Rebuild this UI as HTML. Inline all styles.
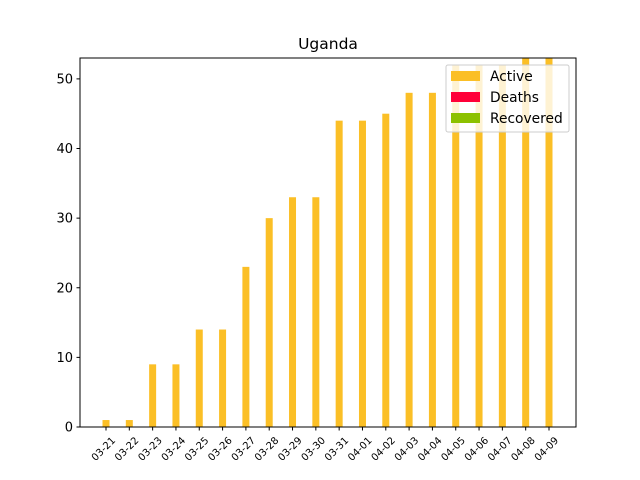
<!DOCTYPE html>
<html><head><meta charset="utf-8"><style>body{margin:0;background:#fff}svg{display:block;font-family:"DejaVu Sans","Liberation Sans",sans-serif}</style></head>
<body>
<svg id="chart" width="640" height="480" viewBox="0 0 640 480">
<rect width="640" height="480" fill="#fff"/>
<text x="328" y="49" text-anchor="middle" font-size="15.5">Uganda</text>
<g id="bars"></g>
<g id="yaxis"></g>
<g id="xaxis"></g>
<rect x="80" y="58" width="496" height="369" fill="none" stroke="#000" stroke-width="1"/>
<g>
<rect x="446" y="65" width="123" height="67" rx="2" fill="#fff" fill-opacity="0.8" stroke="#ccc"/>
<rect x="451" y="71" width="29" height="10" fill="#fbbf26"/>
<text x="490" y="81" font-size="13.8">Active</text>
<rect x="451" y="92" width="29" height="10" fill="#ff0038"/>
<text x="490" y="102" font-size="13.8">Deaths</text>
<rect x="451" y="113" width="29" height="10" fill="#8cc100"/>
<text x="490" y="123" font-size="13.8">Recovered</text>
</g>
</svg>
<script>
const categories=["03-21","03-22","03-23","03-24","03-25","03-26","03-27","03-28","03-29","03-30","03-31","04-01","04-02","04-03","04-04","04-05","04-06","04-07","04-08","04-09"];
const active=[1,1,9,9,14,14,23,30,33,33,44,44,45,48,48,52,52,52,53,53];
const deaths=[0,0,0,0,0,0,0,0,0,0,0,0,0,0,0,0,0,0,0,0];
const recovered=[0,0,0,0,0,0,0,0,0,0,0,0,0,0,0,0,0,0,0,0];
const yTicks=[0,10,20,30,40,50];
const NS="http://www.w3.org/2000/svg";
const x0=106,dx=(549-106)/19,yBase=427,yMax=53,plotH=369;
const xs=i=>x0+i*dx;
const ys=v=>yBase-v/yMax*plotH;
function mk(t,a){const e=document.createElementNS(NS,t);for(const k in a)e.setAttribute(k,a[k]);return e;}
const bars=document.getElementById('bars');
categories.forEach((c,i)=>{
  const r=mk('rect',{x:xs(i)-3.5,y:ys(active[i]),width:7,height:yBase-ys(active[i]),fill:'#fbbf26'});
  
  
  bars.appendChild(r);
  const d=mk('rect',{x:xs(i)-3.5,y:ys(active[i]+deaths[i]),width:7,height:ys(active[i])-ys(active[i]+deaths[i]),fill:'#ff0038'});
  
  
  bars.appendChild(d);
  const rc=mk('rect',{x:xs(i)-3.5,y:ys(active[i]+deaths[i]+recovered[i]),width:7,height:ys(active[i]+deaths[i])-ys(active[i]+deaths[i]+recovered[i]),fill:'#8cc100'});
  
  
  bars.appendChild(rc);
});
const ya=document.getElementById('yaxis');
yTicks.forEach(v=>{
  const l=mk('line',{x1:76.5,x2:80,y1:ys(v),y2:ys(v),stroke:'#000'});
  
  
  ya.appendChild(l);
  const t=mk('text',{x:73,y:ys(v)+4.5,'text-anchor':'end','font-size':'13'});
  t.textContent=v;
  
  
  ya.appendChild(t);
});
const xa=document.getElementById('xaxis');
categories.forEach((c,i)=>{
  const l=mk('line',{x1:xs(i),x2:xs(i),y1:427,y2:430.5,stroke:'#000'});
  
  
  xa.appendChild(l);
  const ax=xs(i)+10, ay=441;
  const t=mk('text',{x:ax,y:ay,'text-anchor':'end','font-size':'10',transform:`rotate(-45 ${ax} ${ay})`});
  t.textContent=c;
  
  
  xa.appendChild(t);
});
</script>
</body></html>
